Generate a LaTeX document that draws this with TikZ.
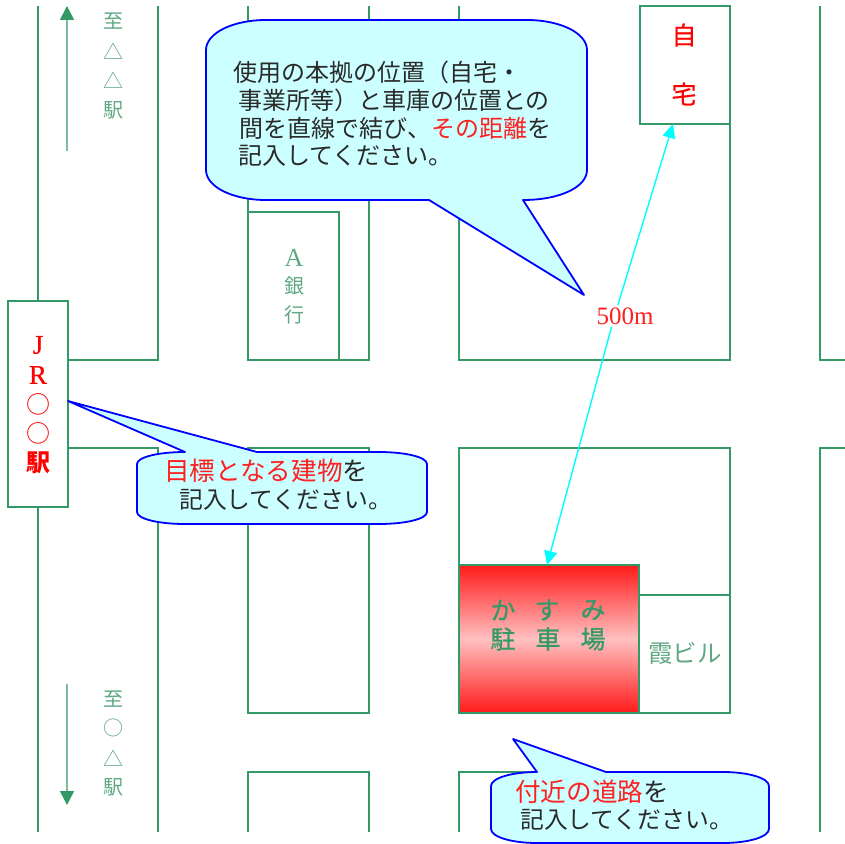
\documentclass[tikz,border=0pt]{standalone}
\usepackage{fontspec}
\setmainfont{Liberation Serif}
\newfontfamily\jp{Noto Sans CJK JP}
\newfontfamily\jpfat[FakeBold=0.7]{Noto Sans CJK JP}
\newfontfamily\serfat[FakeBold=0.6]{Liberation Serif}
\usetikzlibrary{arrows.meta}
\definecolor{road}{HTML}{339966}
\definecolor{softgreen}{HTML}{5FA883}
\definecolor{shaftgreen}{HTML}{7ABD9B}
\definecolor{calloutfill}{HTML}{CCFFFF}
\definecolor{ink}{HTML}{2A2A2A}
\definecolor{redtext}{HTML}{FF2020}
\definecolor{midpink}{HTML}{FFC0C0}
\definecolor{purecyan}{HTML}{00FFFF}
\definecolor{edgered}{HTML}{FF1A1A}
\newcommand{\pxsize}[1]{\fontsize{#1}{#1}\selectfont}
\tikzset{
  roadline/.style={draw=road,line width=1.8pt},
  callout/.style={draw=blue,fill=calloutfill,line width=1.8pt,line join=round},
  dirarrow/.style={draw=shaftgreen,line width=1.6pt,-{Triangle[length=14pt,width=14pt,color=road]}},
  distarrow/.style={draw=purecyan,line width=1.4pt,-{Triangle[length=14pt,width=13pt]}},
  roadlabel/.style={inner sep=0pt,text=softgreen,font=\jp\pxsize{20}},
  stationlabel/.style={inner sep=0pt,text=red,font=\jp\pxsize{24}},
  latinred/.style={inner sep=0pt,text=red,font=\serfat\pxsize{27}},
  noteline/.style={inner sep=0pt,anchor=west,text=ink,font=\jp\pxsize{23.6}},
  noteloose/.style={inner sep=0pt,anchor=west,text=ink,font=\jp\pxsize{25.6}},
  parklabel/.style={inner sep=0pt,text=road,font=\jpfat\pxsize{25}},
}
\begin{document}
\begin{tikzpicture}[x=1pt,y=-1pt]
\useasboundingbox (0,0) rectangle (845,843);
% roads and blocks
\draw[roadline] (38,6) -- (38,300);
\draw[roadline] (38,507) -- (38,832);
\draw[roadline] (158,6) -- (158,360) -- (68,360);
\draw[roadline] (68,448) -- (158,448) -- (158,832);
\draw[roadline] (248,6) -- (248,360) -- (369,360) -- (369,6);
\draw[roadline] (248,212) -- (339,212) -- (339,360);
\draw[roadline] (248,713) -- (248,448) -- (369,448) -- (369,713);
\draw[roadline] (247,713) -- (370,713);
\draw[roadline] (248,832) -- (248,772) -- (369,772) -- (369,832);
\draw[roadline] (459,6) -- (459,360) -- (730,360) -- (730,124);
\draw[roadline] (640,6) rectangle (730,124);
\draw[roadline] (459,713) -- (459,448) -- (730,448) -- (730,713);
\draw[roadline] (459,713) -- (731,713);
\draw[roadline] (639,595) -- (730,595);
\draw[roadline] (459,832) -- (459,772) -- (730,772);
\draw[roadline] (820,6) -- (820,360) -- (845,360);
\draw[roadline] (845,448) -- (820,448) -- (820,832);
% parking
\shade[top color=edgered,bottom color=edgered,middle color=midpink] (459,565) rectangle (639,713);
\draw[road,line width=2.4pt] (459,565) rectangle (639,713);
% station box
\node[draw=road,line width=1.8pt,fill=white,minimum width=60pt,minimum height=206pt,inner sep=0pt] (station) at (38,404) {};
% direction arrows
\coordinate (upstart) at (67,151);
\coordinate (uptip) at (67,6);
\coordinate (downstart) at (67,684);
\coordinate (downtip) at (67,805);
\draw[dirarrow] (upstart) -- (uptip);
\draw[dirarrow] (downstart) -- (downtip);
% road labels
\node[roadlabel] (u1) at (113,21) {至};
\node[roadlabel] (u2) at (113,51) {△};
\node[roadlabel] (u3) at (113,80) {△};
\node[roadlabel] (u4) at (113,110) {駅};
\node[roadlabel] (d1) at (113,699) {至};
\node[roadlabel] (d2) at (113,728) {○};
\node[roadlabel] (d3) at (113,758) {△};
\node[roadlabel] (d4) at (113,787) {駅};
\node[inner sep=0pt,text=softgreen,font=\pxsize{26}] (bankA) at (294,258) {A};
\node[roadlabel] (bank1) at (294,286) {銀};
\node[roadlabel] (bank2) at (294,315) {行};
% station text
\node[latinred] (sJ) at (38,345) {J};
\node[latinred] (sR) at (38,375) {R};
\node[stationlabel] (so1) at (38,404) {○};
\node[stationlabel] (so2) at (38,433) {○};
\node[stationlabel,font=\jp\bfseries\pxsize{24}] (seki) at (38,463) {駅};
% home
\node[stationlabel,font=\jpfat\pxsize{25}] (h1) at (684,35) {自};
\node[stationlabel,font=\jpfat\pxsize{25}] (h2) at (684,94) {宅};
% parking text
\node[parklabel] (p1) at (503,610) {か};
\node[parklabel] (p2) at (547,610) {す};
\node[parklabel] (p3) at (593,610) {み};
\node[parklabel] (p4) at (503,639) {駐};
\node[parklabel] (p5) at (548,639) {車};
\node[parklabel] (p6) at (593,639) {場};
\node[inner sep=0pt,text=softgreen,font=\jp\pxsize{24.5}] (kasumi) at (685,653) {霞ビル};
% distance
\coordinate (hometip) at (673,124);
\coordinate (parktip) at (547,565);
\coordinate (distmid) at (614.5,316);
\draw[distarrow] (distmid) -- (hometip);
\draw[distarrow] (distmid) -- (parktip);
\node[fill=white,inner sep=3pt,text=redtext,font=\pxsize{25}] (dist) at (625,316) {500m};
% callout 1
\draw[callout] (266,20) -- (527,20) .. controls (560,20) and (587,33) .. (587,50)
  -- (587,170) .. controls (587,187) and (560,200) .. (523,200)
  -- (584,295) -- (429,200) -- (266,200)
  .. controls (233,200) and (206,187) .. (206,170)
  -- (206,50) .. controls (206,33) and (233,20) .. (266,20) -- cycle;
\node[noteline,font=\jp\pxsize{24}] (n11) at (233,72) {使用の本拠の位置（自宅・};
\node[noteline,font=\jp\pxsize{24}] (n12) at (238,100) {事業所等）と車庫の位置との};
\node[noteline,font=\jp\pxsize{24}] (n13) at (239,128) {間を直線で結び、\textcolor{redtext}{その距離}を};
\node[noteline,font=\jp\pxsize{24}] (n14) at (238,156) {記入してください。};
% callout 2
\draw[callout] (185,452) -- (68,401) -- (257,452) -- (379,452)
  .. controls (405,452) and (427,457) .. (427,464)
  -- (427,512) .. controls (427,519) and (405,524) .. (379,524)
  -- (185,524) .. controls (159,524) and (137,519) .. (137,512)
  -- (137,464) .. controls (137,457) and (159,452) .. (185,452) -- cycle;
\node[noteloose] (n21) at (164,471) {\textcolor{redtext}{目標となる建物}を};
\node[noteline,font=\jp\pxsize{23.8}] (n22) at (179,500) {記入してください。};
% callout 3
\draw[callout] (537,772) -- (513,739) -- (606,772) -- (723,772)
  .. controls (748,772) and (769,778) .. (769,786)
  -- (769,829) .. controls (769,837) and (748,843) .. (723,843)
  -- (537,843) .. controls (512,843) and (491,837) .. (491,829)
  -- (491,786) .. controls (491,778) and (512,772) .. (537,772) -- cycle;
\node[noteloose] (n31) at (515,792) {\textcolor{redtext}{付近の道路}を};
\node[noteline,font=\jp\pxsize{23.8}] (n32) at (520,820) {記入してください。};
\end{tikzpicture}
\end{document}
